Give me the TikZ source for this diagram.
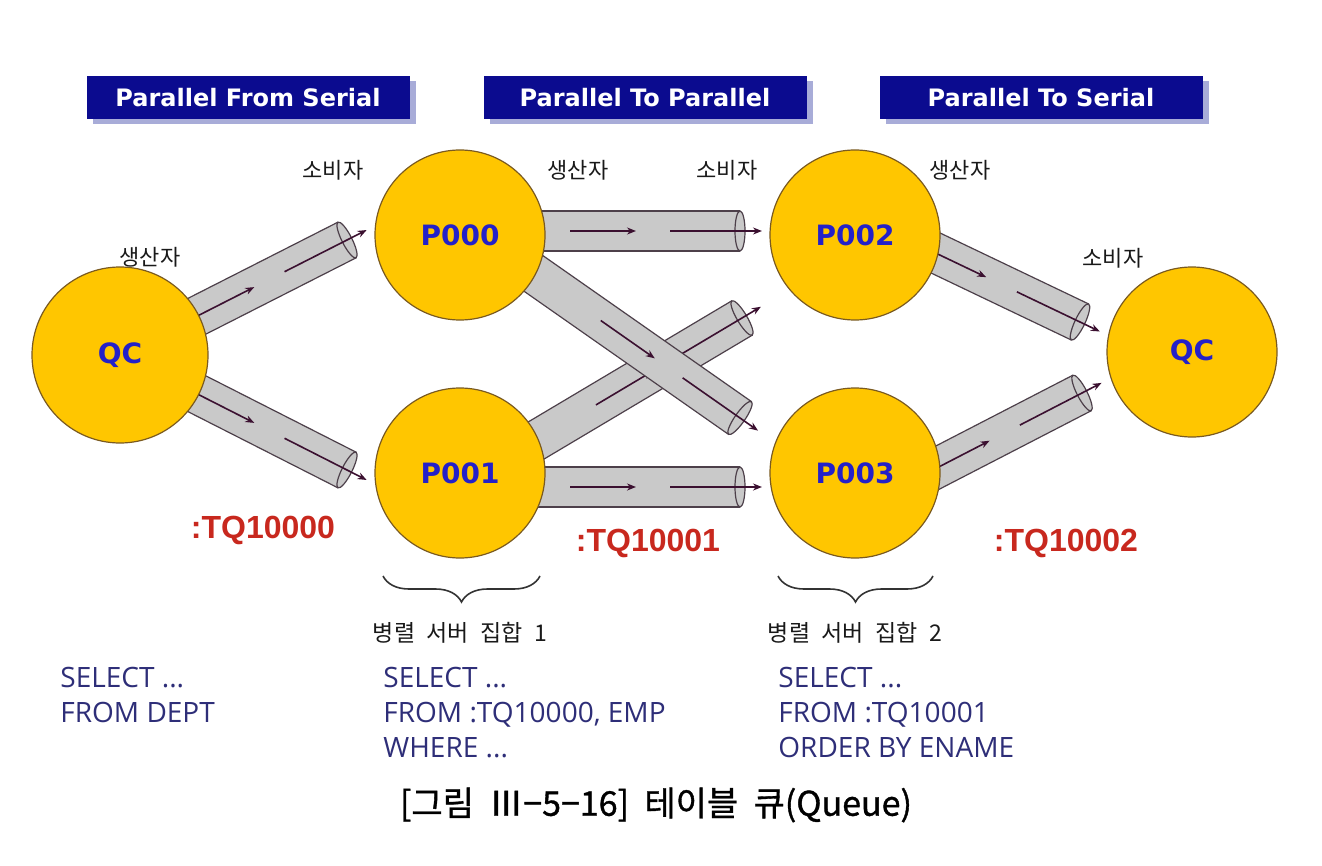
\documentclass[tikz,border=0pt]{standalone}
\usepackage{fontspec}
\usetikzlibrary{calc,arrows.meta,shapes.geometric,decorations.pathreplacing,shadows}
\newfontfamily\kr{Noto Sans CJK KR}
\newfontfamily\krb[FakeBold=1]{Noto Sans CJK KR}
\newfontfamily\dv{DejaVu Sans}
\newfontfamily\lib{Liberation Sans}
\newfontfamily\os{Open Sans}
\definecolor{gold}{HTML}{FFC600}
\definecolor{goldedge}{HTML}{7A5A20}
\definecolor{navy}{HTML}{0B0B8F}
\definecolor{shadowblue}{HTML}{A8ACD8}
\definecolor{lblue}{HTML}{2420C8}
\definecolor{tqred}{HTML}{C8281E}
\definecolor{sqlblue}{HTML}{2E2E78}
\definecolor{pipegray}{HTML}{C9C9C9}
\definecolor{pipeedge}{HTML}{4D404A}
\definecolor{flowcol}{HTML}{3B1030}
\newcommand\drawtube[2]{%
  \fill[pipegray] ($(#1)!10pt!90:(#2)$) -- ($(#2)!10pt!-90:(#1)$) -- ($(#2)!10pt!90:(#1)$) -- ($(#1)!10pt!-90:(#2)$) -- cycle;
  \draw[pipeline] ($(#1)!10pt!90:(#2)$) -- ($(#2)!10pt!-90:(#1)$);
  \draw[pipeline] ($(#1)!10pt!-90:(#2)$) -- ($(#2)!10pt!90:(#1)$);
  \path (#1) -- (#2) node[pos=1, sloped, tubecap] {};
  \draw[flow] ($(#2)!85pt!(#1)$) -- ($(#2)!52pt!(#1)$);
  \draw[flow] ($(#2)!35pt!(#1)$) -- ($(#2)!-11pt!(#1)$);
}
\newcommand\widespaces[1]{\spaceskip=#1\relax}
\begin{document}
\begin{tikzpicture}[x=0.5pt,y=-0.5pt,
  pipeline/.style={draw=pipeedge, line width=0.6pt},
  tubecap/.style={ellipse, draw=pipeedge, fill=pipegray, minimum width=5pt, minimum height=20pt, inner sep=0pt, line width=0.6pt},
  flow/.style={draw=flowcol, line width=0.8pt, -{Stealth[length=4.5pt,width=3.5pt]}},
  proc/.style={circle, fill=gold, draw=goldedge, line width=0.6pt, minimum size=85pt, inner sep=0pt, text=lblue, font=\dv\bfseries\fontsize{14}{16}\selectfont},
  header/.style={fill=navy, minimum width=161.5pt, minimum height=21.5pt, inner sep=0pt, text=white, font=\dv\bfseries\fontsize{12}{14}\selectfont, drop shadow={shadow xshift=3pt, shadow yshift=-2.5pt, fill=shadowblue, opacity=1}},
  role/.style={font=\kr\fontsize{11}{13}\selectfont, text=black!90},
  tq/.style={font=\lib\bfseries\fontsize{16}{18}\selectfont, text=tqred},
  setlabel/.style={font=\kr\fontsize{11.5}{13}\selectfont, text=black!90},
  sql/.style={font=\os\fontsize{14}{17.5}\selectfont, text=sqlblue, align=left, anchor=north west, inner sep=0pt},
  bracestyle/.style={draw=black!80, line width=0.8pt, decorate, decoration={brace, mirror, amplitude=13pt}}
]
\useasboundingbox (0,0) rectangle (1322,866);

% headers
\node[header] (h1) at (248,98) {Parallel From Serial};
\node[header] (h2) at (645,98) {Parallel To Parallel};
\node[header] (h3) at (1041,98) {Parallel To Serial};

% pipe end points
\coordinate (t1s) at (160,335); \coordinate (t1e) at (347,240);
\coordinate (t2s) at (160,375); \coordinate (t2e) at (347,470);
\coordinate (t3s) at (520,231); \coordinate (t3e) at (740,231);
\coordinate (t4s) at (520,487); \coordinate (t4e) at (740,487);
\coordinate (t5s) at (500,250); \coordinate (t5e) at (740,418);
\coordinate (t6s) at (500,462); \coordinate (t6e) at (742,318);
\coordinate (t7s) at (900,236); \coordinate (t7e) at (1080,322);
\coordinate (t8s) at (900,487); \coordinate (t8e) at (1082,393);

\drawtube{t1s}{t1e}
\drawtube{t2s}{t2e}
\drawtube{t3s}{t3e}
\drawtube{t4s}{t4e}
\drawtube{t6s}{t6e}
\drawtube{t5s}{t5e}
\drawtube{t7s}{t7e}
\drawtube{t8s}{t8e}

% processes
\node[proc, minimum size=88pt] (qc1) at (120,355) {QC};
\node[proc] (p000) at (460,235) {P000};
\node[proc] (p001) at (460,473) {P001};
\node[proc] (p002) at (855,235) {P002};
\node[proc] (p003) at (855,473) {P003};
\node[proc] (qc2) at (1192,352) {QC};

% roles
\node[role] (r1) at (150,257) {생산자};
\node[role] (r2) at (333,170) {소비자};
\node[role] (r3) at (578,170) {생산자};
\node[role] (r4) at (727,170) {소비자};
\node[role] (r5) at (960,170) {생산자};
\node[role] (r6) at (1113,258) {소비자};

% table queues
\node[tq] (q0) at (263,530) {:TQ10000};
\node[tq] (q1) at (648,543) {:TQ10001};
\node[tq] (q2) at (1066,543) {:TQ10002};

% braces
\coordinate (b1a) at (383,576); \coordinate (b1b) at (540,576);
\coordinate (b2a) at (778,576); \coordinate (b2b) at (933,576);
\draw[bracestyle] (b1a) -- (b1b);
\draw[bracestyle] (b2a) -- (b2b);
\node[setlabel] (s1) at (460,633) {\widespaces{0.5em}병렬 서버 집합 1};
\node[setlabel] (s2) at (855,633) {\widespaces{0.5em}병렬 서버 집합 2};

% SQL
\node[sql] (sql1) at (60,667) {SELECT ...\\FROM DEPT};
\node[sql] (sql2) at (383,667) {SELECT ...\\FROM :TQ10000, EMP\\WHERE ...};
\node[sql] (sql3) at (778,667) {SELECT ...\\FROM :TQ10001\\ORDER BY ENAME};

% caption
\node[font=\krb\fontsize{17}{19}\selectfont, text=black] (cap) at (656,805) {\widespaces{0.45em}[그림 Ⅲ−5−16] 테이블 큐(Queue)};
\end{tikzpicture}
\end{document}
